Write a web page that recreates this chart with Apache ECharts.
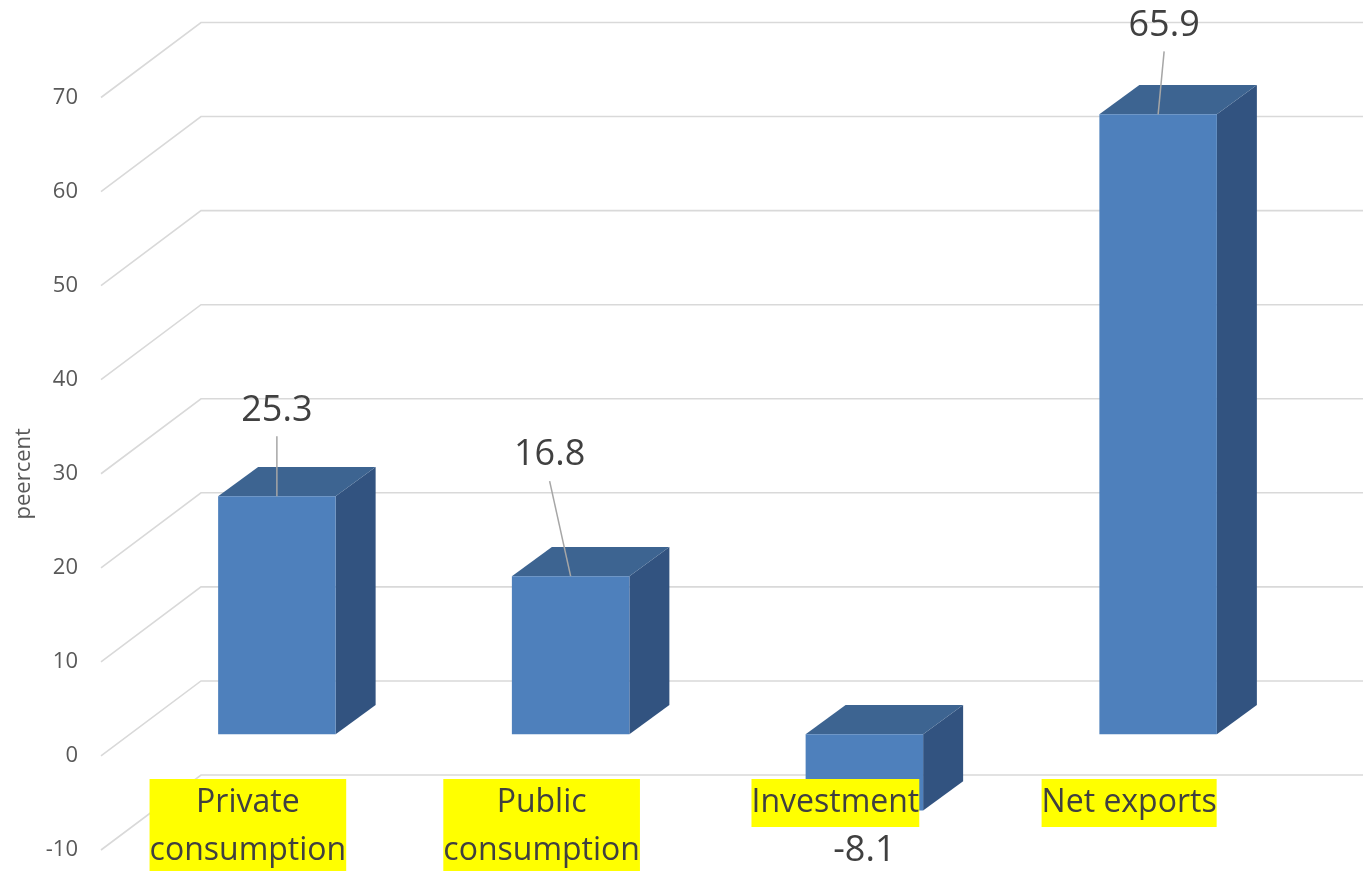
<!DOCTYPE html>
<html><head><meta charset="utf-8">
<script src="https://cdn.jsdelivr.net/npm/echarts@6/dist/echarts.min.js"></script>
<style>html,body{margin:0;padding:0;background:#fff}#chart{width:1363px;height:871px}</style>
</head><body><div id="chart"></div>
<script>
// ---- data ----
const categories = ['Private\nconsumption', 'Public\nconsumption', 'Investment', 'Net exports'];
const values = [25.3, 16.8, -8.1, 65.9];
const yTicks = [-10, 0, 10, 20, 30, 40, 50, 60, 70];
const yAxisName = 'peercent';

// ---- label placement (pixel offsets from the bar end) ----
const labelOffsets = [[0, -86], [-21, -121], [0, 40], [6, -89]];
const showLeader = [true, true, false, true];

// ---- pseudo-3D geometry ----
const BAR_SHIFT = [29, -21.7];
const BAR_DEPTH = [40, -29.3];
const WALL = [100, -75];
const BAR_FRAC = 0.4;
const FONT = '"Open Sans", "Noto Sans", sans-serif';

const chart = echarts.init(document.getElementById('chart'), null, {renderer: 'canvas'});

chart.setOption({
  backgroundColor: '#ffffff',
  animation: false,
  grid: {left: 101, right: 87, top: 97.5, bottom: 21, containLabel: false, outerBoundsMode: 'none'},
  xAxis: {
    type: 'category',
    data: categories,
    z: 10,
    axisLine: {show: false},
    axisTick: {show: false},
    splitLine: {show: false},
    axisLabel: {
      interval: 0,
      margin: -71,
      verticalAlign: 'top',
      fontFamily: FONT,
      fontSize: 32,
      lineHeight: 48,
      color: '#404040',
      backgroundColor: '#ffff00',
      padding: [0, 0, 0, 0]
    }
  },
  yAxis: {
    type: 'value',
    min: -10, max: 70, interval: 10,
    name: yAxisName,
    nameLocation: 'middle',
    nameRotate: 90,
    nameGap: 66,
    nameMoveOverlap: false,
    nameTextStyle: {fontFamily: FONT, fontSize: 22, color: '#595959'},
    axisLine: {show: false},
    axisTick: {show: false},
    splitLine: {show: false},
    axisLabel: {margin: 23, fontFamily: FONT, fontSize: 22, color: '#595959'}
  },
  series: [
    {
      type: 'custom',
      z: 1,
      silent: true,
      data: yTicks.map(v => [0, v]),
      renderItem: function (params, api) {
        const v = api.value(1);
        const p = api.coord([0, v]);
        const cs = params.coordSys;
        const x0 = cs.x, y = p[1];
        return {
          type: 'polyline',
          shape: {points: [[x0, y], [x0 + WALL[0], y + WALL[1]], [x0 + cs.width + WALL[0], y + WALL[1]]]},
          style: {stroke: '#d9d9d9', lineWidth: 1.6, fill: null}
        };
      }
    },
    {
      type: 'custom',
      z: 2,
      data: values.map((v, i) => [i, v]),
      renderItem: function (params, api) {
        const i = api.value(0), v = api.value(1);
        const top = api.coord([i, Math.max(v, 0)]);
        const bot = api.coord([i, Math.min(v, 0)]);
        const bw = api.size([1, 0])[0] * BAR_FRAC;
        const cx = top[0] + BAR_SHIFT[0];
        const xl = cx - bw / 2, xr = cx + bw / 2;
        const yt = top[1] + BAR_SHIFT[1], yb = bot[1] + BAR_SHIFT[1];
        const dx = BAR_DEPTH[0], dy = BAR_DEPTH[1];
        const anchor = v >= 0 ? [cx, yt] : [cx, yb];
        const off = labelOffsets[i];
        const lx = anchor[0] + off[0], ly = anchor[1] + off[1];
        const children = [
          {type: 'polygon', shape: {points: [[xr, yt], [xr + dx, yt + dy], [xr + dx, yb + dy], [xr, yb]]},
           style: {fill: '#325380'}},
          {type: 'polygon', shape: {points: [[xl, yt], [xl + dx, yt + dy], [xr + dx, yt + dy], [xr, yt]]},
           style: {fill: '#3d6491'}},
          {type: 'rect', shape: {x: xl, y: yt, width: bw, height: yb - yt},
           style: {fill: '#4e80bc'}}
        ];
        if (showLeader[i]) {
          children.push({type: 'line', z2: 5,
            shape: {x1: lx, y1: ly + 26, x2: anchor[0], y2: anchor[1]},
            style: {stroke: '#a6a6a6', lineWidth: 1.5}});
        }
        children.push({type: 'text', z2: 6,
          style: {x: lx, y: ly, text: String(v), align: 'center', verticalAlign: 'middle',
                  fontFamily: FONT, fontSize: 36, fill: '#404040'}});
        return {type: 'group', children: children};
      }
    }
  ]
});
</script></body></html>
